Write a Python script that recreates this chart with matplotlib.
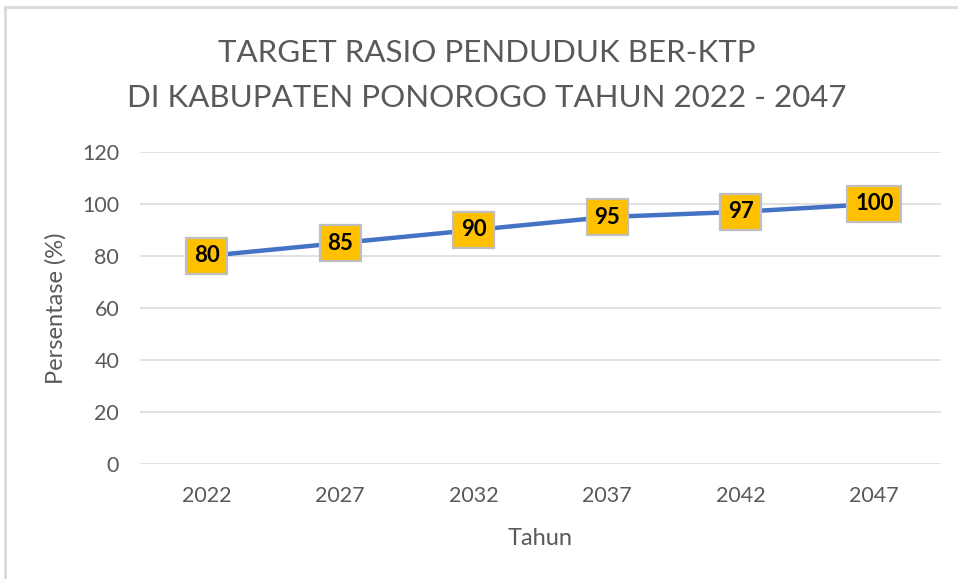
import matplotlib
matplotlib.use("Agg")
import matplotlib.pyplot as plt
from matplotlib.lines import Line2D

years = ["2022", "2027", "2032", "2037", "2042", "2047"]
persentase = [80, 85, 90, 95, 97, 100]
yticks = [0, 20, 40, 60, 80, 100, 120]

title_lines = ["TARGET RASIO PENDUDUK BER-KTP", "DI KABUPATEN PONOROGO TAHUN 2022 - 2047"]

plt.rcParams["font.family"] = ["Lato", "DejaVu Sans"]
W, H = 958, 579
fig = plt.figure(figsize=(W / 100, H / 100), dpi=100)
fig.patch.set_facecolor("white")

ax = fig.add_axes([140 / W, 1 - 464 / H, 801 / W, 312 / H])
x = list(range(len(years)))
ax.plot(x, persentase, color="#4472C4", linewidth=3.2, solid_capstyle="round", zorder=2)

for xi, v in zip(x, persentase):
    ax.text(xi, v, str(v), ha="center", va="center", fontsize=16, fontweight="bold",
            color="black", zorder=3,
            bbox=dict(boxstyle="square,pad=0.35", facecolor="#FFC000",
                      edgecolor="#BFBFBF", linewidth=1.6))

ax.set_xlim(-0.5, len(years) - 0.5)
ax.set_ylim(0, 120)
ax.set_yticks(yticks)
ax.set_xticks(x)
ax.set_xticklabels(years)
ax.grid(axis="y", color="#D9D9D9", linewidth=1.1, zorder=0)
ax.set_axisbelow(True)
for s in ax.spines.values():
    s.set_visible(False)
ax.tick_params(axis="both", length=0, labelsize=15.5, colors="#595959")
ax.tick_params(axis="y", pad=15)
ax.tick_params(axis="x", pad=16)
ax.set_xlabel("Tahun", fontsize=17, color="#595959", labelpad=16)
ax.set_ylabel("Persentase (%)", fontsize=17, color="#595959", labelpad=11)

fig.text(487 / W, 1 - 53 / H, title_lines[0], ha="center", va="center", fontsize=22.5, color="#595959")
fig.text(487 / W, 1 - 98 / H, title_lines[1], ha="center", va="center", fontsize=22.5, color="#595959")

# chart frame edges
fig.add_artist(Line2D([5 / W, 5 / W], [0, 1 - 7 / H], transform=fig.transFigure, color="#D9D9D9", linewidth=2))
fig.add_artist(Line2D([5 / W, 1], [1 - 7 / H, 1 - 7 / H], transform=fig.transFigure, color="#D9D9D9", linewidth=2))

fig.savefig("out.png", dpi=100)
